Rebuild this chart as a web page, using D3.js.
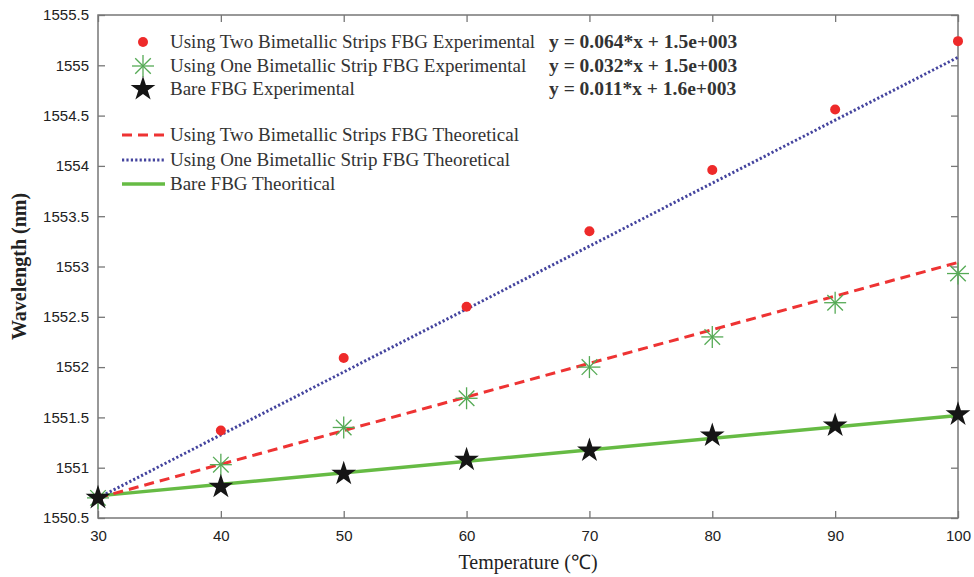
<!DOCTYPE html>
<html>
<head>
<meta charset="utf-8">
<script src="https://cdn.jsdelivr.net/npm/d3@7"></script>
<style>
  body { margin: 0; background: #fff; }
  svg { display: block; }
</style>
</head>
<body>
<div id="canvas"></div>
<script>
// data
var temps = [30, 40, 50, 60, 70, 80, 90, 100];
var twoStripExp = [1550.70, 1551.37, 1552.09, 1552.60, 1553.35, 1553.96, 1554.56, 1555.24];
var oneStripExp = [1550.70, 1551.03, 1551.40, 1551.69, 1552.00, 1552.30, 1552.64, 1552.93];
var bareExp     = [1550.70, 1550.81, 1550.94, 1551.08, 1551.17, 1551.32, 1551.42, 1551.53];

var theoryTemps    = [30, 100];
var twoStripTheory = [1550.70, 1553.04];
var oneStripTheory = [1550.70, 1555.08];
var bareTheory     = [1550.72, 1551.52];

var xTicks = [30, 40, 50, 60, 70, 80, 90, 100];
var yTicks = [1550.5, 1551, 1551.5, 1552, 1552.5, 1553, 1553.5, 1554, 1554.5, 1555, 1555.5];

var fitLabels = ["y = 0.064*x + 1.5e+003", "y = 0.032*x + 1.5e+003", "y = 0.011*x + 1.6e+003"];
var expLabels = ["Using Two Bimetallic Strips FBG Experimental",
                 "Using One Bimetallic Strip FBG Experimental",
                 "Bare FBG Experimental"];
var theoryLabels = ["Using Two Bimetallic Strips FBG Theoretical",
                    "Using One Bimetallic Strip FBG Theoretical",
                    "Bare FBG Theoritical"];

var width = 974, height = 577;
var pLeft = 98, pRight = 958, pTop = 15, pBottom = 518;

var svg = d3.select("#canvas").append("svg")
            .attr("width", width)
            .attr("height", height);

var x = d3.scaleLinear().domain([30, 100]).range([pLeft, pRight]);
var y = d3.scaleLinear().domain([1550.5, 1555.5]).range([pBottom, pTop]);

var frameColor = "#777";
var serif = "'Liberation Serif', 'Times New Roman', serif";
var sans = "'Liberation Sans', Arial, sans-serif";

// axes, ticks pointing inside
function styleAxis(g) {
  g.select(".domain").remove();
  g.selectAll(".tick line").attr("stroke", frameColor).attr("stroke-width", 1.3);
  g.selectAll(".tick text").attr("fill", "#222").attr("font-family", sans).attr("font-size", 15);
}

svg.append("g").attr("transform", "translate(0," + pBottom + ")")
   .call(d3.axisBottom(x).tickValues(xTicks).tickFormat(d3.format("d")).tickSize(-7).tickPadding(12))
   .call(styleAxis);
svg.append("g").attr("transform", "translate(" + pLeft + ",0)")
   .call(d3.axisLeft(y).tickValues(yTicks).tickFormat(function(d){ return d; }).tickSize(-7).tickPadding(9))
   .call(styleAxis);
svg.append("g").attr("transform", "translate(0," + pTop + ")")
   .call(d3.axisTop(x).tickValues(xTicks).tickFormat("").tickSize(-7))
   .call(styleAxis);
svg.append("g").attr("transform", "translate(" + pRight + ",0)")
   .call(d3.axisRight(y).tickValues(yTicks).tickFormat("").tickSize(-7))
   .call(styleAxis);

svg.append("rect")
   .attr("x", pLeft).attr("y", pTop)
   .attr("width", pRight - pLeft).attr("height", pBottom - pTop)
   .attr("fill", "none").attr("stroke", frameColor).attr("stroke-width", 1.5);

// theoretical lines
var line = d3.line().x(function(d){ return x(d[0]); }).y(function(d){ return y(d[1]); });

function drawLine(vals, color, w, dash) {
  svg.append("path")
     .datum(d3.zip(theoryTemps, vals))
     .attr("d", line)
     .attr("fill", "none")
     .attr("stroke", color)
     .attr("stroke-width", w)
     .attr("stroke-dasharray", dash);
}

drawLine(bareTheory, "#66bb44", 3.5, null);
drawLine(twoStripTheory, "#ee3333", 3, "10,6");
drawLine(oneStripTheory, "#44449e", 3, "2.2,2.2");

// markers
function asterisk(g, r) {
  for (var i = 0; i < 4; i++) {
    var a = i * Math.PI / 4;
    g.append("line")
     .attr("x1", -r * Math.cos(a)).attr("y1", -r * Math.sin(a))
     .attr("x2", r * Math.cos(a)).attr("y2", r * Math.sin(a))
     .attr("stroke", "#55aa55").attr("stroke-width", 1.3);
  }
}

var star = d3.symbol().type(d3.symbolStar).size(190);

svg.selectAll(".two").data(d3.zip(temps, twoStripExp)).enter()
   .append("circle").attr("class", "two")
   .attr("cx", function(d){ return x(d[0]); })
   .attr("cy", function(d){ return y(d[1]); })
   .attr("r", 5).attr("fill", "#ee2a2a");

svg.selectAll(".one").data(d3.zip(temps, oneStripExp)).enter()
   .append("g").attr("class", "one")
   .attr("transform", function(d){ return "translate(" + x(d[0]) + "," + y(d[1]) + ")"; })
   .each(function(){ asterisk(d3.select(this), 11); });

svg.selectAll(".bare").data(d3.zip(temps, bareExp)).enter()
   .append("path").attr("class", "bare")
   .attr("d", star)
   .attr("transform", function(d){ return "translate(" + x(d[0]) + "," + y(d[1]) + ")"; })
   .attr("fill", "#151515");

// legend
var legRowsA = [42, 66, 89];
var legRowsB = [135, 160, 184];
var textX = 170;

function legText(txt, yy) {
  svg.append("text").attr("x", textX).attr("y", yy + 6)
     .attr("font-family", serif).attr("font-size", 19).attr("fill", "#333")
     .text(txt);
}

svg.append("circle").attr("cx", 143).attr("cy", legRowsA[0]).attr("r", 5).attr("fill", "#ee2a2a");
asterisk(svg.append("g").attr("transform", "translate(143," + legRowsA[1] + ")"), 11);
svg.append("path").attr("d", star).attr("transform", "translate(143," + legRowsA[2] + ")").attr("fill", "#151515");
expLabels.forEach(function(t, i){ legText(t, legRowsA[i]); });

fitLabels.forEach(function(t, i){
  svg.append("text").attr("x", 549).attr("y", legRowsA[i] + 6)
     .attr("font-family", serif).attr("font-weight", "bold").attr("font-size", 19.5).attr("fill", "#333")
     .text(t);
});

var legStyles = [["#ee3333", 3, "10,6"], ["#44449e", 3, "2.2,2.2"], ["#66bb44", 3.5, null]];
legStyles.forEach(function(s, i){
  svg.append("line").attr("x1", 122).attr("x2", 165)
     .attr("y1", legRowsB[i]).attr("y2", legRowsB[i])
     .attr("stroke", s[0]).attr("stroke-width", s[1]).attr("stroke-dasharray", s[2]);
  legText(theoryLabels[i], legRowsB[i]);
});

// axis titles
svg.append("text")
   .attr("transform", "translate(26," + ((pTop + pBottom) / 2) + ") rotate(-90)")
   .attr("text-anchor", "middle")
   .attr("font-family", serif).attr("font-weight", "bold").attr("font-size", 20).attr("fill", "#222")
   .text("Wavelength (nm)");

svg.append("text")
   .attr("x", (pLeft + pRight) / 2).attr("y", 569)
   .attr("text-anchor", "middle")
   .attr("font-family", serif).attr("font-size", 20).attr("fill", "#222")
   .text("Temperature (℃)");
</script>
</body>
</html>
